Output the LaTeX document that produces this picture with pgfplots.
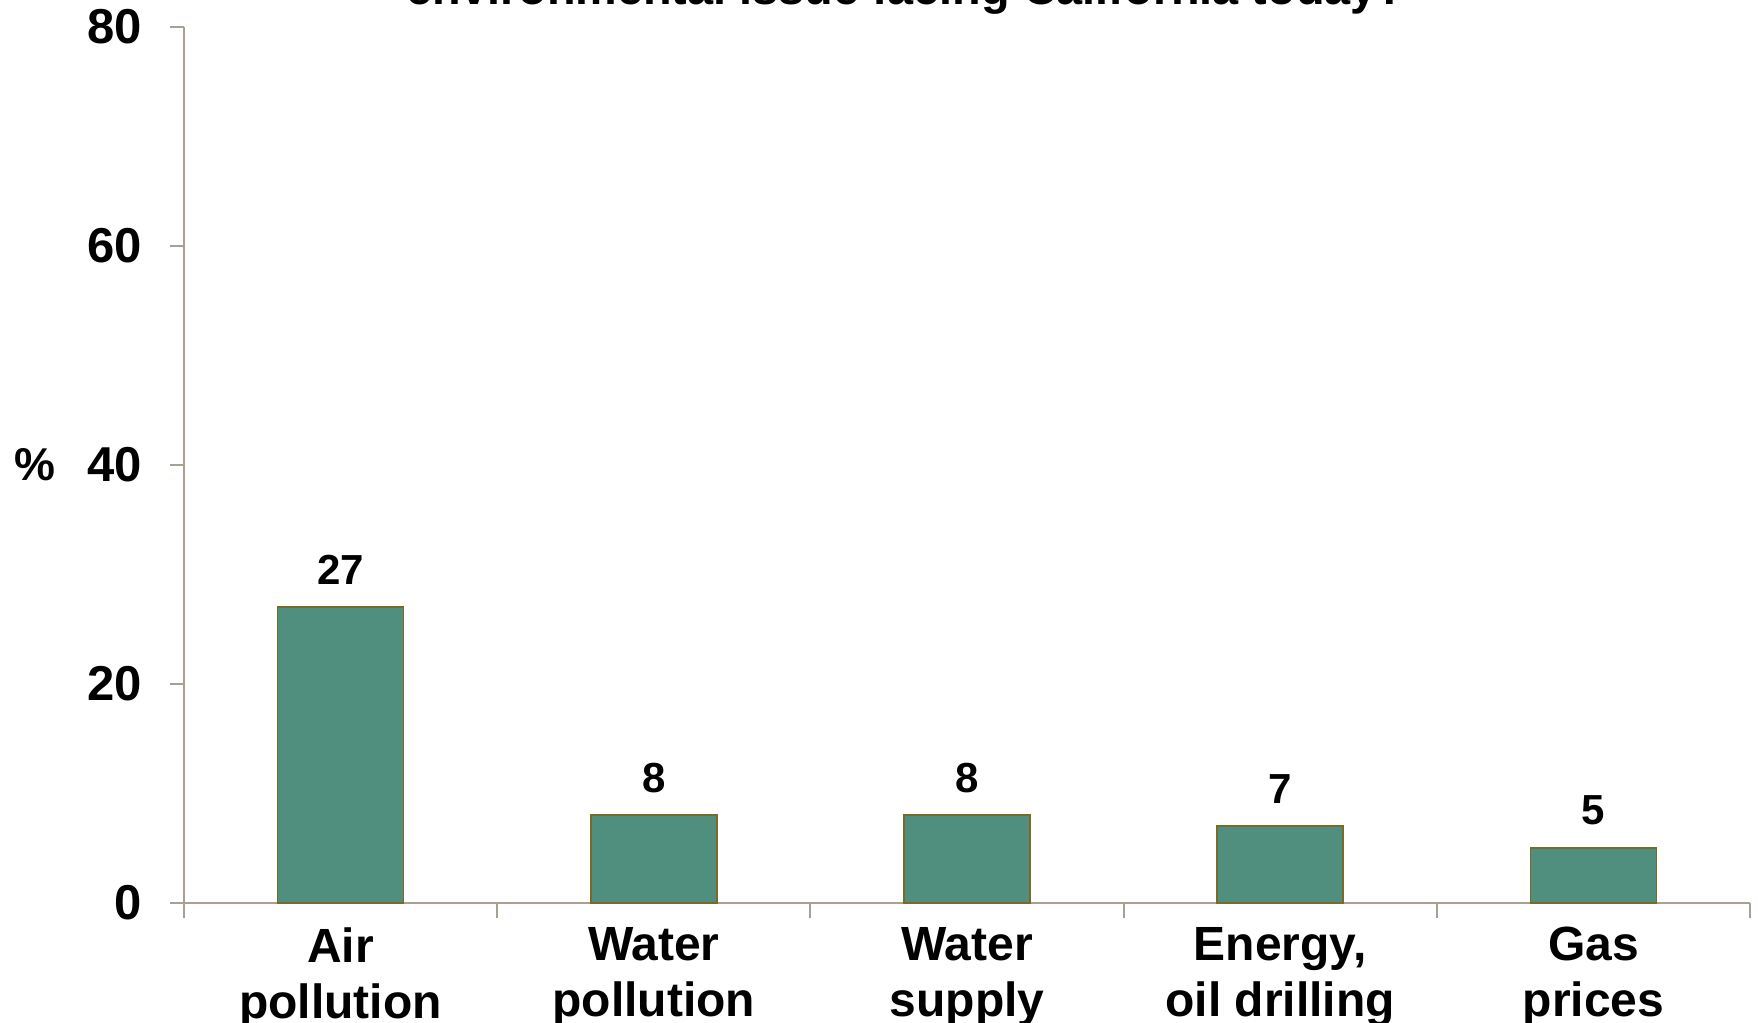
\documentclass[border=0pt]{standalone}
\usepackage{pgfplots}
\pgfplotsset{compat=1.18}
\usepackage{fontspec}
\setmainfont{Liberation Sans}
\definecolor{barfill}{HTML}{508F7E}
\definecolor{baredge}{HTML}{7A6A2A}
\definecolor{axcol}{HTML}{A8A090}
\begin{document}
\begin{tikzpicture}
\begin{axis}[
  at={(92pt,60pt)}, anchor=south west,
  scale only axis, width=783pt, height=438pt,
  xmin=0, xmax=5, ymin=0, ymax=80,
  axis lines*=left,
  axis line style={draw=axcol, line width=1.1pt},
  ytick={0,20,40,60,80},
  tick align=outside, major tick length=7pt,
  ytick style={draw=axcol, line width=1pt},
  xtick={0.5,1.5,2.5,3.5,4.5},
  xticklabels={{Air\\pollution},{Water\\pollution},{Water\\supply},{Energy,\\oil drilling},{Gas\\prices}},
  xtick style={draw=none},
  extra x ticks={0,1,2,3,4,5},
  extra x tick labels={},
  extra x tick style={major tick length=7.5pt, xtick style={draw=axcol, line width=1pt}},
  xticklabel style={align=center, inner sep=0pt, yshift=-5pt, font=\fontsize{24}{28}\selectfont\bfseries},
  yticklabel style={inner sep=0pt, xshift=-14pt, font=\fontsize{24.5}{28}\selectfont\bfseries},
  /pgf/number format/assume math mode=true,
  ylabel={\%},
  ylabel style={rotate=-90, at={(axis description cs:-0.095,0.5)}, anchor=center, font=\fontsize{23}{28}\selectfont\bfseries},
  nodes near coords,
  nodes near coords style={inner sep=0pt, yshift=11pt, font=\fontsize{21}{24}\selectfont\bfseries},
  clip=false,
]
\addplot[ybar, bar width=63pt, fill=barfill, draw=baredge, line width=0.9pt] coordinates {(0.5,27) (1.5,8) (2.5,8) (3.5,7) (4.5,5)};
\end{axis}
\node[anchor=base, inner sep=0pt, font=\fontsize{23.4}{27}\selectfont\bfseries] at (453pt,535.5pt) {Which one issue do you think is the most important};
\node[anchor=base, inner sep=0pt, font=\fontsize{23.4}{27}\selectfont\bfseries] at (453pt,509pt) {environmental issue facing California today?};
\pgfresetboundingbox
\path[use as bounding box] (0,0) rectangle (879pt,511.5pt);
\end{tikzpicture}
\end{document}
